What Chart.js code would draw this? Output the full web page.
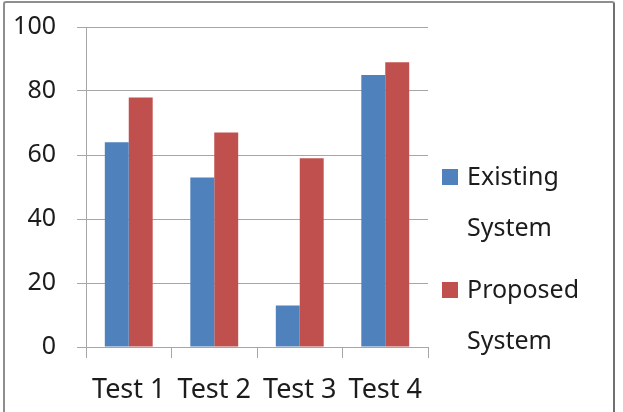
<!DOCTYPE html>
<html>
<head>
<meta charset="utf-8">
<script src="https://cdn.jsdelivr.net/npm/chart.js@4.4.1/dist/chart.umd.min.js"></script>
<style>
  body { margin: 0; background: #fff; overflow: hidden; }
  #wrap { position: relative; width: 623px; height: 412px; }
  #frame { position: absolute; left: 3px; top: 1px; width: 608px; height: 420px;
           border: 2px solid #8e8e8e; border-right-color: #707070; border-radius: 3px; }
  canvas { position: absolute; left: 0; top: 0; }
</style>
</head>
<body>
<div id="wrap">
  <div id="frame"></div>
  <canvas id="bar-chart" width="623" height="412"></canvas>
</div>
<script>
var categories = ["Test 1", "Test 2", "Test 3", "Test 4"];
var existing = [64, 53, 13, 85];
var proposed = [78, 67, 59, 89];
var legendLines = [["Existing", "System"], ["Proposed", "System"]];
var yTicks = [0, 20, 40, 60, 80, 100];

var gridColor = '#a6a6a6';
var textColor = '#1c1c1c';
var font = { family: 'Noto Sans', size: 25 };

// legend drawn to the right of the plot, two lines per item
var sideLegend = {
    id: 'sideLegend',
    afterDraw: function(chart) {
        var ctx = chart.ctx;
        var area = chart.chartArea;
        var x = area.right + 14;
        var tops = [area.top + 142, area.top + 255];
        ctx.save();
        ctx.font = font.size + 'px ' + font.family;
        ctx.textBaseline = 'middle';
        ctx.textAlign = 'left';
        chart.data.datasets.forEach(function(ds, i) {
            var y = tops[i];
            ctx.fillStyle = ds.backgroundColor;
            ctx.fillRect(x, y, 16, 16);
            ctx.fillStyle = textColor;
            legendLines[i].forEach(function(line, j) {
                ctx.fillText(line, x + 25, y + 9 + j * 51);
            });
        });
        ctx.restore();
    }
};

var ctx = document.getElementById("bar-chart").getContext('2d');
var myChart = new Chart(ctx, {
    type: 'bar',
    data: {
        labels: categories,
        datasets: [{
            label: legendLines[0].join(' '),
            data: existing,
            backgroundColor: '#4f81bd'
        }, {
            label: legendLines[1].join(' '),
            data: proposed,
            backgroundColor: '#c0504d'
        }]
    },
    options: {
        responsive: false,
        animation: false,
        layout: { padding: { top: 27, right: 195, left: 0, bottom: 0 } },
        datasets: {
            bar: { categoryPercentage: 0.56, barPercentage: 1.0 }
        },
        plugins: {
            legend: { display: false },
            tooltip: { enabled: false }
        },
        scales: {
            x: {
                grid: { offset: true, drawOnChartArea: false, color: gridColor, tickLength: 11 },
                border: { color: gridColor },
                ticks: { color: textColor, font: { family: 'Noto Sans', size: 27 }, padding: 16, maxRotation: 0 },
                afterFit: function(scale) { scale.height = 65; }
            },
            y: {
                min: 0,
                max: 100,
                afterBuildTicks: function(scale) {
                    scale.ticks = yTicks.map(function(v) { return { value: v }; });
                },
                grid: { color: gridColor, tickLength: 9 },
                border: { color: gridColor },
                ticks: { color: textColor, font: font, padding: 21 },
                afterFit: function(scale) {
                    scale.width = 86;
                    scale.paddingTop = 0;
                    scale.paddingBottom = 0;
                }
            }
        }
    },
    plugins: [sideLegend]
});
</script>
</body>
</html>
